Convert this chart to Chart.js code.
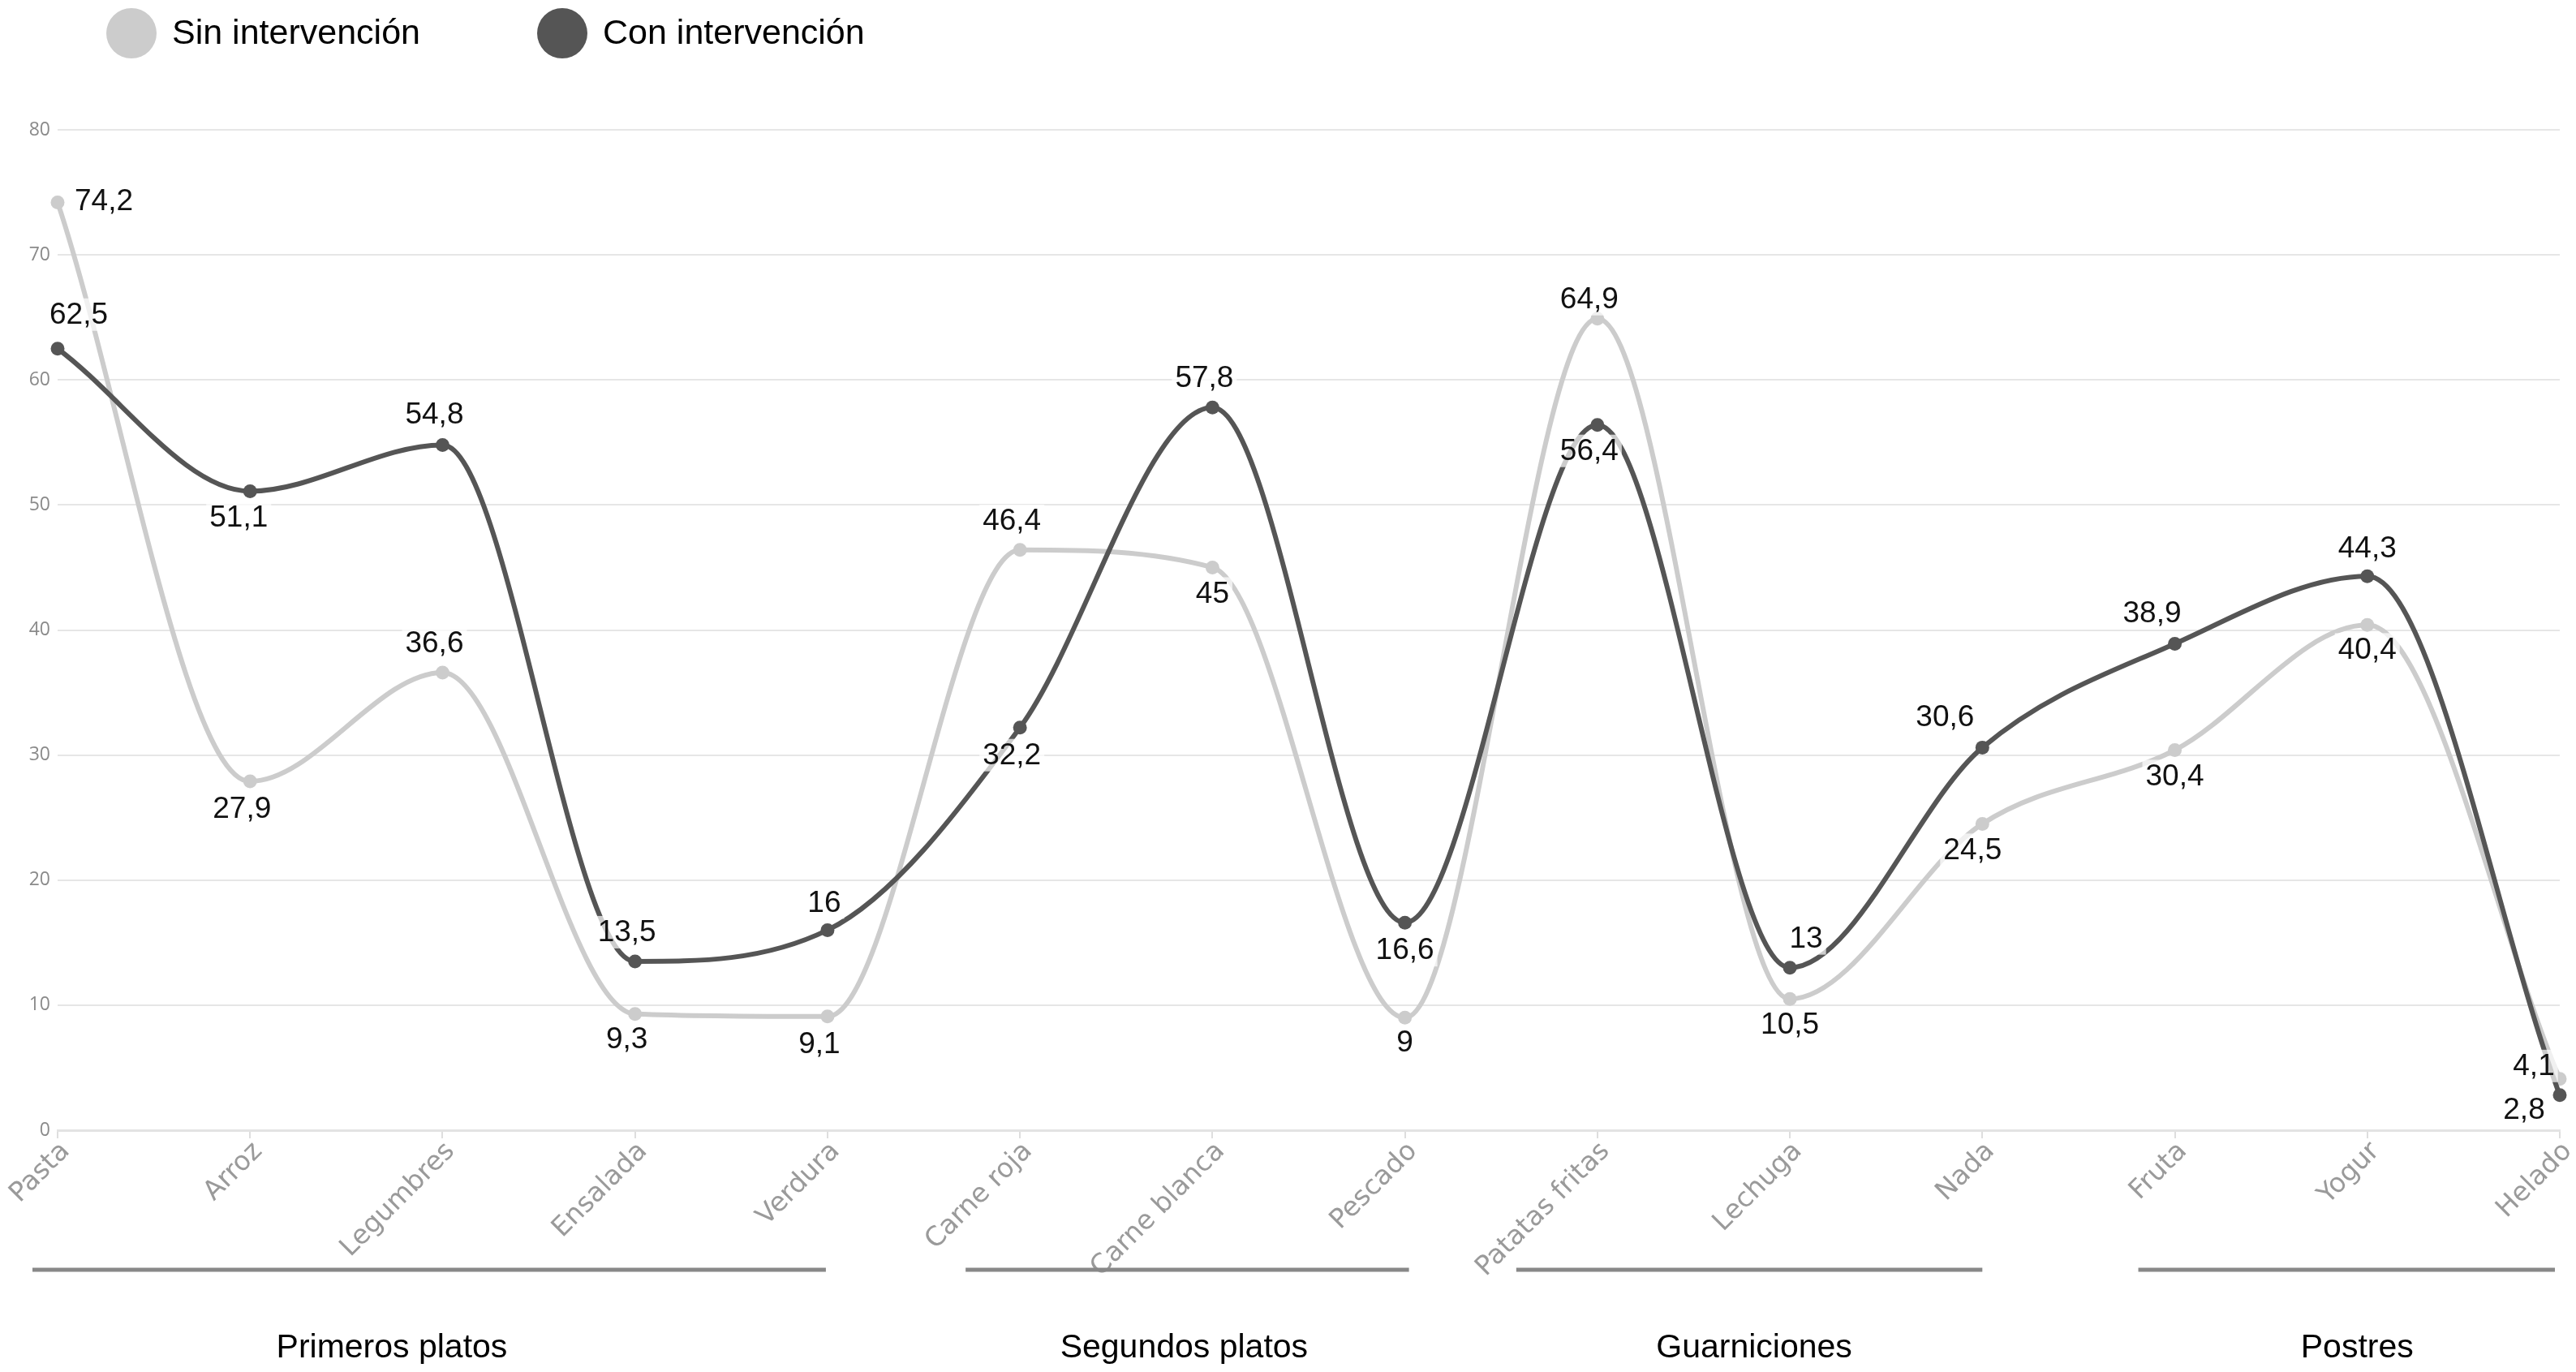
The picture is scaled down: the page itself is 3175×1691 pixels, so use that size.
<!DOCTYPE html>
<html lang="es">
<head>
<meta charset="utf-8">
<title>Sin / Con intervención</title>
<script src="https://cdn.jsdelivr.net/npm/chart.js@4.4.1/dist/chart.umd.min.js"></script>
<style>
  html, body { margin: 0; padding: 0; background: #fff; overflow: hidden; }
  #chart { display: block; }
</style>
</head>
<body>
<canvas id="chart" width="3175" height="1691"></canvas>
<script>
// datos
const categories = ['Pasta', 'Arroz', 'Legumbres', 'Ensalada', 'Verdura', 'Carne roja', 'Carne blanca', 'Pescado', 'Patatas fritas', 'Lechuga', 'Nada', 'Fruta', 'Yogur', 'Helado']
const sinIntervencion = [74.2, 27.9, 36.6, 9.3, 9.1, 46.4, 45, 9, 64.9, 10.5, 24.5, 30.4, 40.4, 4.1]
const conIntervencion = [62.5, 51.1, 54.8, 13.5, 16, 32.2, 57.8, 16.6, 56.4, 13, 30.6, 38.9, 44.3, 2.8]
const yTicks = [0, 10, 20, 30, 40, 50, 60, 70, 80]
const seriesNames = ['Sin intervención', 'Con intervención']

const groupNames = ['Primeros platos', 'Segundos platos', 'Guarniciones', 'Postres']
const groupFirst = [0, 5, 8, 11]
const groupLast = [4, 7, 10, 13]

// where each value label sits relative to its point (px)
const sinLabelOffsets = [[57, -2], [-10, 34], [-10, -36], [-10, 31], [-10, 34], [-10, -36], [0, 32], [0, 31], [-10, -24], [0, 32], [-12, 32], [0, 32], [0, 30], [-32, -16]]
const conLabelOffsets = [[26, -42], [-14, 32], [-10, -38], [-10, -36], [-4, -34], [-10, 34], [-10, -36], [0, 34], [-10, 32], [20, -36], [-46, -38], [-28, -38], [0, -34], [-44, 18]]

// group bracket tweaks (px)
const groupStartShift = [-31, -67, -100, -45]
const groupEndShift = [-2, 5, 0, -6]
const groupTextShift = [-46, -4, 6, 13]

const LIGHT = '#cccccc'
const DARK = '#555555'

const valueLabels = {
  id: 'valueLabels',
  afterDatasetsDraw(chart) {
    const ctx = chart.ctx
    ctx.save()
    ctx.font = '37px "Liberation Sans", Arial, sans-serif'
    ctx.textAlign = 'center'
    ctx.textBaseline = 'middle'
    chart.data.datasets.forEach((ds, i) => {
      const meta = chart.getDatasetMeta(i)
      meta.data.forEach((pt, j) => {
        const [dx, dy] = ds.labelOffsets[j]
        const text = String(ds.data[j]).replace('.', ',')
        const x = pt.x + dx
        const y = pt.y + dy
        const w = ctx.measureText(text).width
        ctx.fillStyle = 'rgba(255,255,255,0.7)'
        ctx.fillRect(x - w / 2 - 4, y - 20, w + 8, 40)
        ctx.fillStyle = '#111'
        ctx.fillText(text, x, y + 1)
      })
    })
    ctx.restore()
  }
}

const legendAndGroups = {
  id: 'legendAndGroups',
  afterDraw(chart) {
    const ctx = chart.ctx
    const xs = chart.scales.x
    ctx.save()
    // legend
    ctx.font = '43px "Liberation Sans", Arial, sans-serif'
    ctx.textBaseline = 'middle'
    ctx.textAlign = 'left'
    const legendX = [162, 693]
    const colors = [LIGHT, DARK]
    seriesNames.forEach((name, i) => {
      ctx.fillStyle = colors[i]
      ctx.beginPath()
      ctx.arc(legendX[i], 41, 31, 0, Math.PI * 2)
      ctx.fill()
      ctx.fillStyle = '#000'
      ctx.fillText(name, legendX[i] + 50, 42)
    })
    // groups under the axis
    ctx.font = '41px "Liberation Sans", Arial, sans-serif'
    ctx.textAlign = 'center'
    groupNames.forEach((name, i) => {
      const x1 = xs.getPixelForValue(groupFirst[i]) + groupStartShift[i]
      const x2 = xs.getPixelForValue(groupLast[i]) + groupEndShift[i]
      ctx.strokeStyle = '#888'
      ctx.lineWidth = 5
      ctx.beginPath()
      ctx.moveTo(x1, 1565)
      ctx.lineTo(x2, 1565)
      ctx.stroke()
      ctx.fillStyle = '#000'
      ctx.fillText(name, (x1 + x2) / 2 + groupTextShift[i], 1662)
    })
    ctx.restore()
  }
}

new Chart(document.querySelector('#chart'), {
  type: 'line',
  data: {
    labels: categories,
    datasets: [
      {
        label: seriesNames[0],
        data: sinIntervencion,
        labelOffsets: sinLabelOffsets,
        borderColor: LIGHT,
        backgroundColor: LIGHT,
        borderWidth: 6,
        pointRadius: 8.5,
        pointBorderWidth: 0,
        cubicInterpolationMode: 'monotone',
        clip: false,
        order: 2
      },
      {
        label: seriesNames[1],
        data: conIntervencion,
        labelOffsets: conLabelOffsets,
        borderColor: DARK,
        backgroundColor: DARK,
        borderWidth: 6,
        pointRadius: 8.5,
        pointBorderWidth: 0,
        cubicInterpolationMode: 'monotone',
        clip: false,
        order: 1
      }
    ]
  },
  options: {
    responsive: false,
    animation: false,
    devicePixelRatio: 1,
    layout: { padding: { top: 160, right: 20, bottom: 0, left: 0 } },
    plugins: {
      legend: { display: false },
      tooltip: { enabled: false }
    },
    scales: {
      x: {
        offset: false,
        grid: { drawOnChartArea: false, drawTicks: true, tickLength: 10, color: '#dedede', lineWidth: 2 },
        border: { display: true, color: '#e3e3e3', width: 3 },
        ticks: {
          color: '#9a9a9a',
          font: { family: '"DejaVu Sans", sans-serif', size: 33 },
          maxRotation: 45,
          minRotation: 45,
          padding: -3,
          labelOffset: 10,
          autoSkip: false
        },
        afterFit: (scale) => {
          scale.height = 298
          scale.paddingLeft = 0
          scale.paddingRight = 0
        }
      },
      y: {
        min: 0,
        max: 80,
        grid: { color: '#e6e6e6', lineWidth: 2, drawTicks: false },
        border: { display: false },
        ticks: {
          color: '#8a8a8a',
          font: { family: '"Open Sans", sans-serif', size: 23 },
          padding: 9
        },
        afterBuildTicks: (scale) => {
          scale.ticks = yTicks.map(v => ({ value: v }))
        },
        afterFit: (scale) => {
          scale.width = 71
        }
      }
    }
  },
  plugins: [valueLabels, legendAndGroups]
})
</script>
</body>
</html>
